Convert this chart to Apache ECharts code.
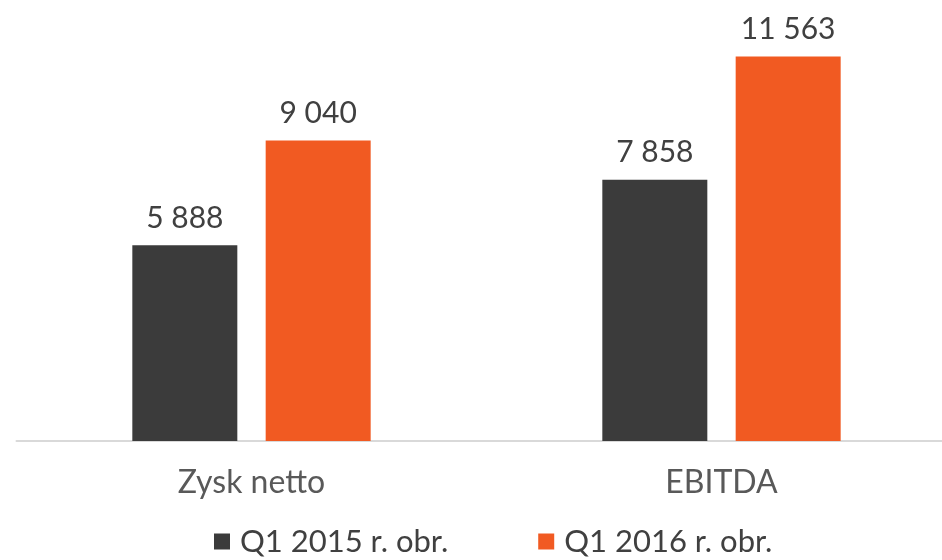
<!DOCTYPE html>
<html>
<head>
<meta charset="utf-8">
<script src="https://cdn.jsdelivr.net/npm/echarts@6/dist/echarts.min.js"></script>
<style>
  html, body { margin: 0; padding: 0; background: #fff; }
  #chart { width: 942px; height: 560px; }
</style>
</head>
<body>
<div id="chart"></div>
<script>
const categories = ['Zysk netto', 'EBITDA']
const seriesNames = ['Q1 2015 r. obr.', 'Q1 2016 r. obr.']
const q1_2015 = [5888, 7858]
const q1_2016 = [9040, 11563]

const fmt = v => String(v).replace(/\B(?=(\d{3})+(?!\d))/g, ' ')

const labelStyle = {
  show: true,
  position: 'top',
  distance: 12,
  fontFamily: 'Lato',
  fontSize: 30,
  color: '#404040',
  formatter: p => fmt(p.value)
}

const chart = echarts.init(document.getElementById('chart'))
chart.setOption({
  animation: false,
  backgroundColor: '#fff',
  grid: {
    left: 16.5,
    width: 940,
    top: 42,
    bottom: 119,
    containLabel: false,
    outerBoundsMode: 'none'
  },
  legend: {
    bottom: -2,
    left: 209,
    padding: 5,
    itemWidth: 16,
    itemHeight: 16,
    itemGap: 90,
    icon: 'rect',
    textStyle: {
      fontFamily: 'Lato',
      fontSize: 31,
      color: '#404040',
      padding: [0, 0, 0, 5]
    },
    data: seriesNames
  },
  xAxis: {
    type: 'category',
    data: categories,
    axisLine: { lineStyle: { color: '#d9d9d9', width: 2 } },
    axisTick: { show: false },
    axisLabel: {
      margin: 26,
      fontFamily: 'Lato',
      fontSize: 32,
      color: '#595959'
    }
  },
  yAxis: {
    type: 'value',
    min: 0,
    max: 12000,
    show: false,
    splitLine: { show: false }
  },
  series: [
    {
      name: seriesNames[0],
      type: 'bar',
      barWidth: 105,
      barGap: '27%',
      itemStyle: { color: '#3b3b3b' },
      label: labelStyle,
      data: q1_2015
    },
    {
      name: seriesNames[1],
      type: 'bar',
      barWidth: 105,
      barGap: '27%',
      itemStyle: { color: '#f15a22' },
      label: labelStyle,
      data: q1_2016
    }
  ]
})
</script>
</body>
</html>
